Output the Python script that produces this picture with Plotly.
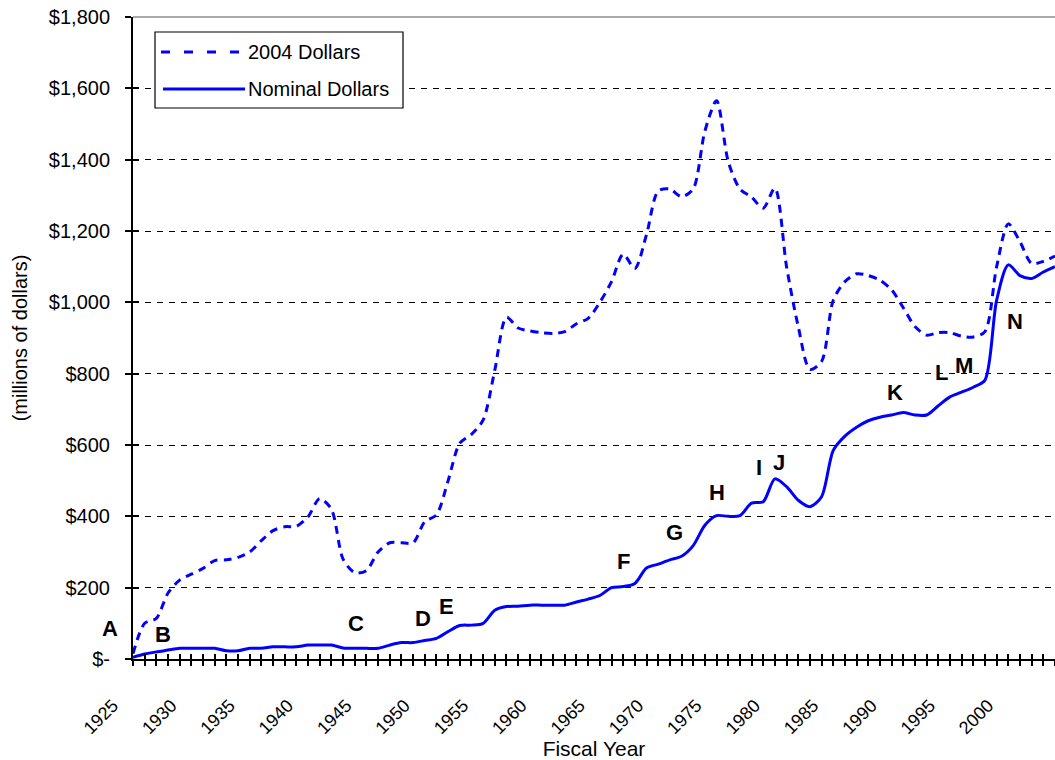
import plotly.graph_objects as go

YEARS = list(range(1925, 2005))

REAL_2004 = [15, 100, 114, 185, 221, 238, 254, 276, 278, 285,
             300, 332, 360, 371, 372, 399, 450, 420, 280, 242,
             248, 300, 326, 326, 326, 385, 404, 500, 605, 630,
             670, 810, 958, 928, 920, 915, 913, 918, 940, 955,
             1000, 1058, 1135, 1095, 1190, 1312, 1318, 1296, 1318, 1480,
             1565, 1395, 1318, 1295, 1264, 1320, 1100, 932, 812, 834,
             1006, 1058, 1080, 1075, 1062, 1035, 985, 932, 908, 915,
             915, 905, 903, 918, 1100, 1220, 1170, 1109, 1115, 1130]

NOMINAL = [5, 14, 20, 25, 30, 30, 30, 30, 23, 23,
           30, 30, 34, 34, 34, 39, 39, 39, 31, 30,
           30, 30, 39, 46, 46, 52, 58, 77, 94, 95,
           100, 137, 147, 148, 151, 151, 151, 151, 160, 168,
           178, 200, 203, 212, 255, 266, 278, 288, 318, 375,
           402, 400, 402, 437, 441, 505, 483, 445, 427, 455,
           585, 625, 650, 668, 678, 684, 691, 684, 684, 710,
           735, 748, 762, 782, 1006, 1105, 1075, 1067, 1085, 1100]

assert len(REAL_2004) == len(YEARS) == len(NOMINAL)

Y_TICKS = [0, 200, 400, 600, 800, 1000, 1200, 1400, 1600, 1800]
Y_TICK_TEXT = ["$-", "$200", "$400", "$600", "$800", "$1,000", "$1,200",
               "$1,400", "$1,600", "$1,800"]
X_TICK_TEXT = [str(y) if (y % 5 == 0 and y <= 2000) else "" for y in YEARS]

LABELS = ["A", "B", "C", "D", "E", "F", "G", "H", "I", "J", "K", "L", "M", "N"]
LABEL_X = [1923.07, 1927.54, 1944.14, 1949.81, 1951.82, 1967.05, 1971.36,
           1975.0, 1978.66, 1980.37, 1990.29, 1994.29, 1996.21, 2000.54]
LABEL_Y = [86.5, 67.3, 100.6, 114.6, 148.3, 273.8, 354.6,
           467.2, 536.7, 550.7, 747.0, 803.1, 821.9, 947.0]

SERIES_NAMES = ["2004 Dollars", "Nominal Dollars"]

FONT = "Liberation Sans, Arial, sans-serif"
BLUE = "#0000FF"

X_RANGE = [YEARS[0], YEARS[-1]]
Y_RANGE = [Y_TICKS[0], Y_TICKS[-1]]

fig = go.Figure()
fig.add_trace(go.Scatter(x=YEARS, y=REAL_2004, name=SERIES_NAMES[0], mode="lines",
                         line=dict(color=BLUE, width=3, dash="8px,6px",
                                   shape="spline", smoothing=0.8),
                         showlegend=False))
fig.add_trace(go.Scatter(x=YEARS, y=NOMINAL, name=SERIES_NAMES[1], mode="lines",
                         line=dict(color=BLUE, width=3, shape="spline", smoothing=0.8),
                         showlegend=False))
# helper trace so the overlay axes (crossing tick marks) are drawn
fig.add_trace(go.Scatter(x=[YEARS[0]], y=[Y_TICKS[0]], xaxis="x2", yaxis="y2",
                         mode="markers", marker=dict(opacity=0), hoverinfo="skip",
                         showlegend=False))

annotations = []
for t, x, y in zip(LABELS, LABEL_X, LABEL_Y):
    # position in paper coordinates derived from the axis ranges (so labels outside the range show)
    xp = (x - X_RANGE[0]) / (X_RANGE[1] - X_RANGE[0])
    yp = (y - Y_RANGE[0]) / (Y_RANGE[1] - Y_RANGE[0])
    annotations.append(dict(x=xp, y=yp, xref="paper", yref="paper", text=f"<b>{t}</b>",
                            showarrow=False, font=dict(family=FONT, size=22, color="black"),
                            xanchor="center", yanchor="middle"))

# manual legend (long line samples like the original)
def px_x(p):
    return (p - 133) / 922.0

def px_y(p):
    return (659 - p) / 642.0

shapes = [
    dict(type="line", xref="paper", yref="paper", x0=0, x1=1, y0=1, y1=1,
         line=dict(color="#8c8c8c", width=1.5), layer="above"),
    dict(type="rect", xref="paper", yref="paper", x0=px_x(155), x1=px_x(403),
         y0=px_y(108), y1=px_y(32), fillcolor="white",
         line=dict(color="black", width=1.2), layer="above"),
    dict(type="line", xref="paper", yref="paper", x0=px_x(161), x1=px_x(241),
         y0=px_y(52), y1=px_y(52), line=dict(color=BLUE, width=3, dash="9px,14px"),
         layer="above"),
    dict(type="line", xref="paper", yref="paper", x0=px_x(163), x1=px_x(245),
         y0=px_y(89), y1=px_y(89), line=dict(color=BLUE, width=3), layer="above"),
]
annotations.append(dict(x=px_x(246), y=px_y(52), xref="paper", yref="paper",
                        text=SERIES_NAMES[0], showarrow=False, xanchor="left",
                        yanchor="middle", font=dict(family=FONT, size=20, color="black")))
annotations.append(dict(x=px_x(246), y=px_y(89), xref="paper", yref="paper",
                        text=SERIES_NAMES[1], showarrow=False, xanchor="left",
                        yanchor="middle", font=dict(family=FONT, size=20, color="black")))

fig.update_layout(
    width=1055, height=760,
    margin=dict(l=133, r=0, t=17, b=101),
    paper_bgcolor="white", plot_bgcolor="white",
    font=dict(family=FONT, size=18, color="black"),
    showlegend=False,
    xaxis=dict(range=X_RANGE, tickmode="array", tickvals=YEARS,
               ticktext=X_TICK_TEXT, tickangle=-45, ticks="outside", ticklen=5,
               tickwidth=2, tickcolor="black", showline=True, linecolor="black",
               linewidth=2, showgrid=False, zeroline=False,
               tickfont=dict(family=FONT, size=18, color="black"),
               ticklabelshift=-20, ticklabelstandoff=22,
               title=dict(text="Fiscal Year", font=dict(family=FONT, size=21),
                          standoff=4)),
    yaxis=dict(range=Y_RANGE, tickmode="array", tickvals=Y_TICKS,
               ticktext=Y_TICK_TEXT, ticks="outside", ticklen=6, tickwidth=2,
               tickcolor="black", showline=True, linecolor="black", linewidth=2,
               showgrid=True, gridcolor="black", gridwidth=1, griddash="6px,6px",
               zeroline=False, tickfont=dict(family=FONT, size=20, color="black"),
               ticklabelstandoff=11,
               title=dict(text="(millions of dollars)", font=dict(family=FONT, size=20),
                          standoff=16)),
    xaxis2=dict(range=X_RANGE, overlaying="x", anchor="y", side="bottom",
                tickmode="array", tickvals=YEARS, ticks="inside", ticklen=5,
                tickwidth=2, tickcolor="black", showticklabels=False, showgrid=False,
                showline=False, zeroline=False),
    yaxis2=dict(range=Y_RANGE, overlaying="y", anchor="x", side="left",
                tickmode="array", tickvals=Y_TICKS, ticks="inside", ticklen=6,
                tickwidth=2, tickcolor="black", showticklabels=False, showgrid=False,
                showline=False, zeroline=False),
    shapes=shapes,
    annotations=annotations,
)

fig.write_html("out.html", config={"displayModeBar": False},
               post_script="document.body.style.margin='0px';")
